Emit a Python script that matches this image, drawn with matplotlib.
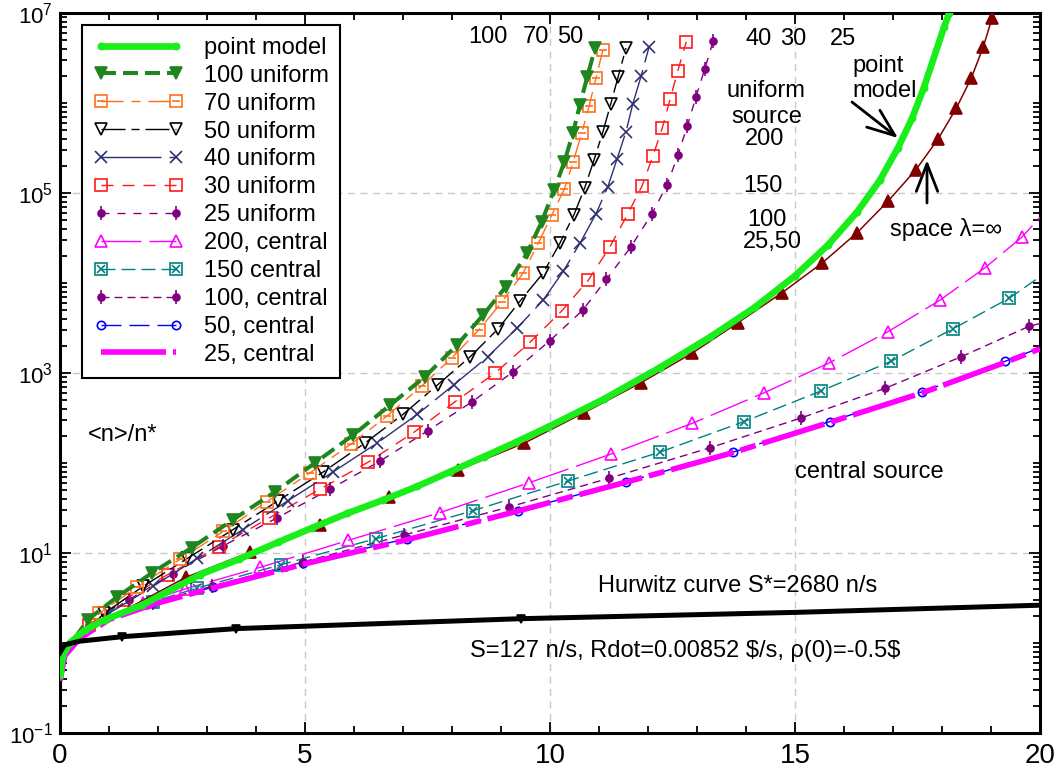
import numpy as np
import matplotlib
matplotlib.use('Agg')
import matplotlib.pyplot as plt
from matplotlib.ticker import FixedLocator, FixedFormatter, NullFormatter

plt.rcParams['font.family'] = ['Liberation Sans', 'DejaVu Sans']
plt.rcParams['mathtext.fontset'] = 'custom'
plt.rcParams['mathtext.rm'] = 'Liberation Sans'
plt.rcParams['mathtext.it'] = 'Liberation Sans:italic'
plt.rcParams['mathtext.default'] = 'regular'
plt.rcParams['lines.scale_dashes'] = False

# ---------------- data (y values stored as log10 of <n>/n*) ----------------
pm_x = [0, 0.05, 0.2, 0.5, 0.92, 1.67, 2.86, 3.65, 4.45, 5.15, 5.86, 6.6, 7.29, 7.95, 8.65, 9.3, 9.96, 11.1,
        12.24, 13.27, 14.18, 15.0, 15.67, 16.27, 16.73, 17.1, 17.39, 17.63, 18.04, 18.15]
pm_lg = [-0.4, -0.15, 0.0, 0.14, 0.26, 0.42, 0.76, 0.93, 1.12, 1.28, 1.44, 1.59, 1.74, 1.9, 2.07, 2.23, 2.4, 2.71,
         3.06, 3.4, 3.73, 4.08, 4.42, 4.79, 5.14, 5.5, 5.83, 6.17, 6.84, 7.0]

sp_x = [0, 0.05, 0.2, 0.5, 1.2, 2.57, 3.88, 5.31, 6.72, 8.12, 9.47, 10.7, 11.85, 12.9, 13.84, 14.73, 15.55,
        16.27, 16.9, 17.47, 17.92, 18.29, 18.6, 18.84, 19.02, 19.06]
sp_lg = [-0.4, -0.15, 0.0, 0.14, 0.33, 0.73, 1.01, 1.31, 1.62, 1.92, 2.22, 2.56, 2.89, 3.22, 3.56, 3.89, 4.22,
         4.56, 4.91, 5.26, 5.6, 5.94, 6.28, 6.62, 6.94, 7.0]

hw_x = [0, 0.1, 0.4, 1.27, 3.6, 9.4, 15, 20]
hw_lg = [-0.1, -0.02, 0.02, 0.07, 0.16, 0.27, 0.34, 0.42]

u100_x = [0, 0.1, 0.57, 1.16, 1.88, 2.69, 3.53, 4.39, 5.2, 5.98, 6.73, 7.45, 8.1, 8.63, 9.1, 9.53, 9.83, 10.08,
          10.29, 10.47, 10.61, 10.76, 10.92]
u100_lg = [-0.4, -0.1, 0.26, 0.51, 0.78, 1.06, 1.37, 1.68, 2.0, 2.31, 2.64, 2.96, 3.31, 3.64, 3.96, 4.33, 4.68, 5.03,
           5.34, 5.67, 5.98, 6.29, 6.61]

u70_x = [0, 0.1, 0.8, 1.57, 2.45, 3.33, 4.22, 5.1, 5.94, 6.67, 7.39, 8.0, 8.55, 9.02, 9.45, 9.76, 10.04, 10.29,
         10.47, 10.65, 10.8, 10.94, 11.08]
u70_lg = [-0.4, -0.1, 0.33, 0.62, 0.93, 1.24, 1.57, 1.89, 2.21, 2.52, 2.86, 3.17, 3.48, 3.79, 4.11, 4.44, 4.76, 5.04,
          5.34, 5.67, 5.97, 6.28, 6.59]

u50_x = [0, 0.1, 0.9, 1.7, 2.6, 3.53, 4.45, 5.37, 6.22, 7.0, 7.71, 8.37, 8.94, 9.39, 9.86, 10.2, 10.49, 10.71,
         10.9, 11.08, 11.24, 11.39, 11.55]
u50_lg = [-0.4, -0.1, 0.33, 0.63, 0.94, 1.26, 1.58, 1.9, 2.22, 2.54, 2.87, 3.18, 3.49, 3.8, 4.11, 4.44, 4.76, 5.06,
          5.37, 5.68, 5.99, 6.29, 6.61]

u40_x = [0, 0.1, 1.0, 1.9, 2.8, 3.73, 4.65, 5.57, 6.47, 7.29, 8.04, 8.73, 9.33, 9.86, 10.27, 10.62, 10.94, 11.18,
         11.37, 11.55, 11.69, 11.86, 12.02]
u40_lg = [-0.4, -0.1, 0.33, 0.63, 0.94, 1.26, 1.58, 1.9, 2.22, 2.54, 2.87, 3.18, 3.5, 3.81, 4.13, 4.45, 4.77, 5.07,
          5.38, 5.68, 5.99, 6.3, 6.62]

u30_x = [0, 0.1, 0.6, 1.3, 2.2, 3.24, 4.27, 5.31, 6.29, 7.22, 8.06, 8.88, 9.59, 10.24, 10.78, 11.22, 11.59, 11.88,
         12.1, 12.29, 12.45, 12.61, 12.78]
u30_lg = [-0.4, -0.1, 0.2, 0.48, 0.76, 1.07, 1.39, 1.71, 2.01, 2.34, 2.68, 3.0, 3.34, 3.69, 4.03, 4.4, 4.77, 5.08,
          5.41, 5.72, 6.04, 6.36, 6.68]

u25_x = [0, 0.1, 0.6, 1.4, 2.3, 3.33, 4.43, 5.51, 6.53, 7.51, 8.41, 9.24, 10.0, 10.67, 11.15, 11.65, 12.08, 12.39,
         12.61, 12.8, 12.98, 13.16, 13.33]
u25_lg = [-0.4, -0.1, 0.2, 0.48, 0.77, 1.08, 1.39, 1.71, 2.02, 2.36, 2.68, 3.01, 3.36, 3.7, 4.04, 4.4, 4.77, 5.09,
          5.42, 5.74, 6.07, 6.38, 6.69]

c200_x = [0, 0.1, 0.35, 0.9, 1.7, 2.55, 4.08, 5.88, 7.76, 9.57, 11.25, 12.9, 14.37, 15.69, 16.9, 17.96, 18.88, 19.63, 20]
c200_lg = [-0.4, -0.1, 0.08, 0.28, 0.45, 0.6, 0.84, 1.14, 1.45, 1.78, 2.1, 2.44, 2.78, 3.11, 3.46, 3.81, 4.17, 4.51, 4.73]

c150_x = [0, 0.1, 0.4, 1.0, 1.9, 2.8, 4.51, 6.45, 8.43, 10.37, 12.24, 13.96, 15.53, 16.96, 18.22, 19.37, 20]
c150_lg = [-0.4, -0.1, 0.08, 0.28, 0.46, 0.61, 0.87, 1.16, 1.47, 1.8, 2.12, 2.46, 2.8, 3.13, 3.49, 3.83, 4.07]

c100_x = [0, 0.1, 0.4, 1.0, 1.9, 3.1, 4.96, 7.02, 9.16, 11.2, 13.27, 15.12, 16.84, 18.39, 19.78, 20]
c100_lg = [-0.4, -0.12, 0.06, 0.27, 0.45, 0.63, 0.9, 1.2, 1.51, 1.83, 2.17, 2.5, 2.83, 3.18, 3.52, 3.55]

c50_x = [0, 0.1, 0.4, 1.0, 1.9, 3.12, 4.96, 7.08, 9.35, 11.55, 13.73, 15.71, 17.59, 19.29, 20]
c50_lg = [-0.4, -0.12, 0.06, 0.27, 0.44, 0.62, 0.89, 1.16, 1.47, 1.79, 2.12, 2.46, 2.79, 3.13, 3.28]

c25_x = [0, 0.1, 0.4, 1.0, 1.9, 3.1, 5.0, 7.1, 9.3, 11.5, 13.7, 15.7, 17.6, 19.3, 20]
c25_lg = [-0.42, -0.14, 0.05, 0.26, 0.43, 0.61, 0.88, 1.15, 1.46, 1.78, 2.11, 2.45, 2.78, 3.12, 3.27]

x_ticks = [0, 5, 10, 15, 20]
x_ticklabels = ['0', '5', '10', '15', '20']
y_ticks = [1e-1, 1e1, 1e3, 1e5, 1e7]
y_ticklabels = ['$10^{-1}$', '$10^{1}$', '$10^{3}$', '$10^{5}$', '$10^{7}$']

# ---------------- figure ----------------
W, H = 1058, 771
fig = plt.figure(figsize=(W / 100, H / 100), dpi=100)
ax = fig.add_axes([60 / W, 1 - 733 / H, 980 / W, 720 / H])
ax.set_yscale('log')
ax.set_xlim(0, 20)
ax.set_ylim(1e-1, 1e7)


def curve(x, lg, color, lw, dashes, marker, ms, filled, mevery, z, overlay=None, ov_ms=None, label=None, mew=1.2):
    x = np.asarray(x, float)
    y = np.power(10.0, np.asarray(lg, float))
    kw = dict(color=color, lw=lw, marker=marker, ms=ms, mec=color, mew=mew,
              mfc=color if filled else 'none', markevery=mevery, zorder=z, label=label,
              solid_capstyle='butt', dash_capstyle='butt')
    if dashes is not None:
        kw['dashes'] = dashes
    ln, = ax.plot(x, y, **kw)
    handle = ln
    if overlay is not None:
        ov, = ax.plot(x[mevery], y[mevery], ls='none', marker=overlay, ms=ov_ms, mec=color, mew=mew,
                      mfc='none', zorder=z + 0.1)
        handle = (ln, ov)
    return handle


pt = 0.72  # px -> pt
handles = {}
handles['25 uniform'] = curve(u25_x, u25_lg, '#800080', 1.0, (8 * pt, 8 * pt), 'o', 5, True, slice(2, None), 3,
                              overlay='|', ov_ms=10)
handles['30 uniform'] = curve(u30_x, u30_lg, '#ff1a1a', 1.0, (12 * pt, 9 * pt), 's', 8, False, slice(2, None), 3)
handles['40 uniform'] = curve(u40_x, u40_lg, '#2e3170', 1.0, (60 * pt, 8 * pt), 'x', 8, False, slice(2, None), 3)
handles['50 uniform'] = curve(u50_x, u50_lg, 'black', 1.0, (24 * pt, 6 * pt, 8 * pt, 6 * pt), 'v', 8, False,
                              slice(2, None), 3)
handles['70 uniform'] = curve(u70_x, u70_lg, '#ff6f1a', 1.0, (22 * pt, 8 * pt, 9 * pt, 8 * pt), 's', 8, False,
                              slice(2, None), 3.2, overlay='_', ov_ms=6)
handles['100 uniform'] = curve(u100_x, u100_lg, '#1f861f', 2.9, (15 * pt, 7 * pt), 'v', 8, True, slice(2, None), 3.4)

handles['50, central'] = curve(c50_x, c50_lg, '#0000ff', 1.0, (20 * pt, 8 * pt), 'o', 6, False, slice(4, -1), 4)
handles['100, central'] = curve(c100_x, c100_lg, '#800080', 1.0, (8 * pt, 5 * pt), 'o', 5, True, slice(4, -1), 4,
                                overlay='|', ov_ms=10)
handles['150 central'] = curve(c150_x, c150_lg, '#008080', 1.0, (14 * pt, 6 * pt), 's', 8, False, slice(4, -1), 4,
                               overlay='x', ov_ms=6)
handles['200, central'] = curve(c200_x, c200_lg, '#ff00ff', 1.0, (40 * pt, 8 * pt), '^', 8, False, slice(4, -1), 4)
handles['25, central'] = curve(c25_x, c25_lg, '#ff00ff', 4.0, (65 * pt, 7 * pt, 16 * pt, 7 * pt), None, 0, False,
                               None, 4.5)

# space lambda = infinity
curve(sp_x, sp_lg, '#800000', 1.1, None, '^', 8, True, slice(5, -1), 5)
# point model
handles['point model'] = curve(pm_x, pm_lg, '#1aee1a', 4.8, None, 'o', 4.5, True, slice(1, None), 6)
# Hurwitz curve
curve(hw_x, hw_lg, 'black', 3.6, None, 'v', 6, True, [0, 3, 4, 5], 7)

order = ['point model', '100 uniform', '70 uniform', '50 uniform', '40 uniform', '30 uniform', '25 uniform',
         '200, central', '150 central', '100, central', '50, central', '25, central']
leg = ax.legend([handles[k] for k in order], order, loc='upper left',
                bbox_to_anchor=((82 - 60) / 980, 1 - (25 - 13) / 720), borderaxespad=0,
                fontsize=17, handlelength=3.8, handletextpad=0.85, labelspacing=0.25, borderpad=0.5,
                numpoints=2, frameon=True, fancybox=False, framealpha=1, edgecolor='black')
leg.get_frame().set_linewidth(1.5)
leg.set_zorder(20)

# ---------------- axes styling ----------------
ax.xaxis.set_major_locator(FixedLocator(x_ticks))
ax.xaxis.set_major_formatter(FixedFormatter(x_ticklabels))
ax.xaxis.set_minor_locator(FixedLocator([v for v in range(0, 21) if v % 5]))
ax.yaxis.set_major_locator(FixedLocator(y_ticks))
ax.yaxis.set_major_formatter(FixedFormatter(y_ticklabels))
ymin = []
for d in range(-1, 7):
    for k in range(1, 10):
        v = k * 10.0 ** d
        if not (k == 1 and d % 2 == 1):
            ymin.append(v)
ax.yaxis.set_minor_locator(FixedLocator(ymin))
ax.yaxis.set_minor_formatter(NullFormatter())

ax.tick_params(which='both', direction='in', top=True, right=True, width=1.3)
ax.tick_params(which='major', length=8)
ax.tick_params(which='minor', length=5)
ax.tick_params(axis='x', labelsize=20, pad=7)
ax.tick_params(axis='y', labelsize=16, pad=5)
for s in ax.spines.values():
    s.set_linewidth(2.2)
ax.grid(True, which='major', color='#c8c8c8', ls=(0, (5, 4)), lw=1)
ax.set_axisbelow(True)


# ---------------- annotations ----------------
def T(px, py, s, ha='left', va='baseline', size=17):
    fig.text(px / W, 1 - py / H, s, ha=ha, va=va, fontsize=size, zorder=30)


T(468, 43, '100')
T(523, 43, '70')
T(557, 43, '50')
T(745, 45, '40')
T(780, 45, '30')
T(830, 45, '25')
T(766, 97, 'uniform', ha='center')
T(767, 123, 'source', ha='center')
T(745, 145, '200')
T(743, 192, '150')
T(747, 226, '100')
T(743, 248, '25,50')
T(852, 72, 'point')
T(852, 97, 'model')
T(890, 236, 'space λ=∞')
T(88, 441, '<n>/n*')
T(795, 478, 'central source')
T(598, 592, 'Hurwitz curve S*=2680 n/s')
T(470, 657, 'S=127 n/s, Rdot=0.00852 \\$/s, ρ(0)=-0.5\\$')

arrow = dict(arrowstyle='->,head_length=0.9,head_width=0.35', lw=2, color='black',
             mutation_scale=22, shrinkA=0, shrinkB=0)
ax.annotate('', xy=(898 / W, 1 - 138 / H), xycoords='figure fraction',
            xytext=(852 / W, 1 - 102 / H), textcoords='figure fraction', arrowprops=arrow)
ax.annotate('', xy=(927 / W, 1 - 160 / H), xycoords='figure fraction',
            xytext=(927 / W, 1 - 203 / H), textcoords='figure fraction', arrowprops=arrow)

fig.savefig('out.png', dpi=100)
